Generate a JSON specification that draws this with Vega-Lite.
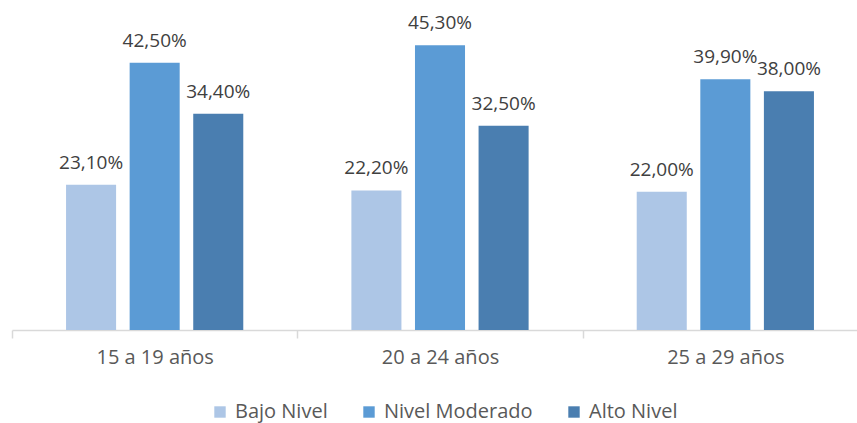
{
  "$schema": "https://vega.github.io/schema/vega-lite/v6.json",
  "width": 856,
  "height": 330,
  "autosize": {"type": "none"},
  "padding": {"left": 12, "top": 0, "right": 0, "bottom": 93},
  "background": "white",
  "config": {
    "view": {"stroke": null},
    "font": "Open Sans",
    "locale": {"number": {"decimal": ",", "thousands": ".", "grouping": [3], "currency": ["", " €"]}}
  },
  "data": {
    "values": [
      {"grupo": "15 a 19 años", "nivel": "Bajo Nivel", "valor": 0.231},
      {"grupo": "15 a 19 años", "nivel": "Nivel Moderado", "valor": 0.425},
      {"grupo": "15 a 19 años", "nivel": "Alto Nivel", "valor": 0.344},
      {"grupo": "20 a 24 años", "nivel": "Bajo Nivel", "valor": 0.222},
      {"grupo": "20 a 24 años", "nivel": "Nivel Moderado", "valor": 0.453},
      {"grupo": "20 a 24 años", "nivel": "Alto Nivel", "valor": 0.325},
      {"grupo": "25 a 29 años", "nivel": "Bajo Nivel", "valor": 0.22},
      {"grupo": "25 a 29 años", "nivel": "Nivel Moderado", "valor": 0.399},
      {"grupo": "25 a 29 años", "nivel": "Alto Nivel", "valor": 0.38}
    ]
  },
  "encoding": {
    "x": {
      "field": "grupo", "type": "nominal", "sort": null,
      "scale": {"paddingInner": 0, "paddingOuter": 0},
      "axis": {
        "title": null, "labelAngle": 0, "tickBand": "extent",
        "domainColor": "#d9d9d9", "domainWidth": 1.5,
        "tickColor": "#d9d9d9", "tickWidth": 1.5, "tickSize": 8,
        "labelFontSize": 20, "labelColor": "#595959", "labelPadding": 9,
        "labelFont": "Open Sans"
      }
    },
    "xOffset": {
      "field": "nivel", "type": "nominal",
      "sort": ["Bajo Nivel", "Nivel Moderado", "Alto Nivel"],
      "scale": {"paddingInner": 0.213, "paddingOuter": 0.85}
    },
    "y": {
      "field": "valor", "type": "quantitative",
      "scale": {"domain": [0, 0.525]},
      "axis": null
    }
  },
  "layer": [
    {
      "mark": {"type": "bar"},
      "encoding": {
        "color": {
          "field": "nivel", "type": "nominal",
          "sort": ["Bajo Nivel", "Nivel Moderado", "Alto Nivel"],
          "scale": {
            "domain": ["Bajo Nivel", "Nivel Moderado", "Alto Nivel"],
            "range": ["#adc6e6", "#5b9bd5", "#4a7eb0"]
          },
          "legend": {
            "title": null, "orient": "none", "direction": "horizontal",
            "legendX": 198, "legendY": 402,
            "symbolType": "square", "symbolSize": 130, "symbolStrokeWidth": 0,
            "labelFontSize": 20, "labelColor": "#595959", "labelFont": "Open Sans",
            "columnPadding": 31, "labelOffset": 5
          }
        }
      }
    },
    {
      "mark": {"type": "text", "baseline": "alphabetic", "dy": -16, "fontSize": 19, "color": "#404040", "font": "Open Sans"},
      "encoding": {
        "text": {"field": "valor", "type": "quantitative", "format": ".2%"}
      }
    }
  ]
}
